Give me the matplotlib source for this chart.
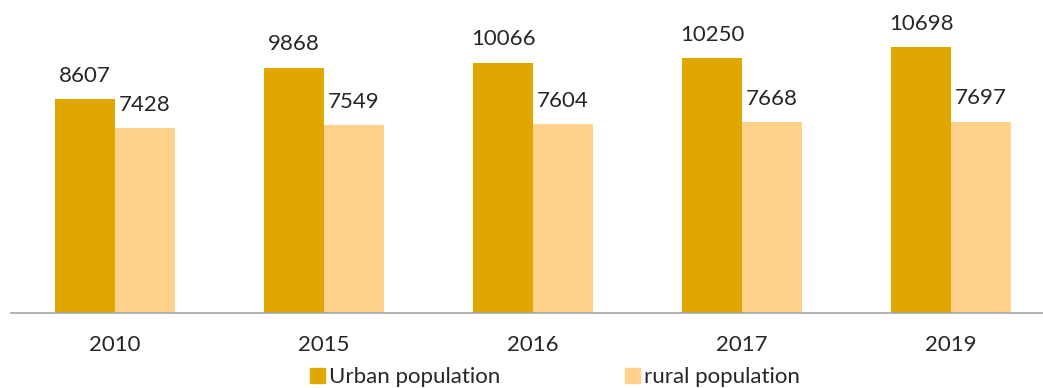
import numpy as np
import matplotlib.pyplot as plt
from matplotlib.patches import Patch

years = ['2010', '2015', '2016', '2017', '2019']
urban = [8607, 9868, 10066, 10250, 10698]
rural = [7428, 7549, 7604, 7668, 7697]

urban_color = '#E0A700'
rural_color = '#FFD18A'
text_color = '#262626'

plt.rcParams['font.family'] = ['Lato', 'DejaVu Sans']

W, H = 1043, 388
fig = plt.figure(figsize=(W / 100, H / 100), dpi=100)
# axes run a bit past the right edge, like the cropped original
ax = fig.add_axes([10.5 / W, 75 / H, 1045 / W, 298.3 / H])

x = np.arange(len(years))
bw = 0.285
b1 = ax.bar(x - bw / 2, urban, bw, color=urban_color)
b2 = ax.bar(x + bw / 2, rural, bw, color=rural_color)

for bars, vals in ((b1, urban), (b2, rural)):
    for b, v in zip(bars, vals):
        ax.annotate(str(v), (b.get_x() + b.get_width() / 2, v),
                    xytext=(0, 12.5), textcoords='offset points',
                    ha='center', va='baseline', fontsize=16, color=text_color)

ax.set_xlim(-0.5, len(years) - 0.5)
ax.set_ylim(0, 12000)
ax.set_xticks(x)
ax.set_xticklabels(years, fontsize=16, color=text_color)
ax.tick_params(axis='x', length=0, pad=16)
ax.set_yticks([])
for s in ('top', 'right', 'left'):
    ax.spines[s].set_visible(False)
ax.spines['bottom'].set_color('#A6A6A6')
ax.spines['bottom'].set_linewidth(1.2)

handles = [Patch(color=urban_color, label='Urban population'),
           Patch(color=rural_color, label='rural population')]
fig.legend(handles=handles, loc='center', bbox_to_anchor=(555 / W, 1 - 377 / H),
           ncol=2, frameon=False, fontsize=16, handlelength=0.68, handleheight=0.68,
           handletextpad=0.2, columnspacing=5.6, labelcolor=text_color,
           borderpad=0, borderaxespad=0)

fig.savefig('out.png', dpi=100)
